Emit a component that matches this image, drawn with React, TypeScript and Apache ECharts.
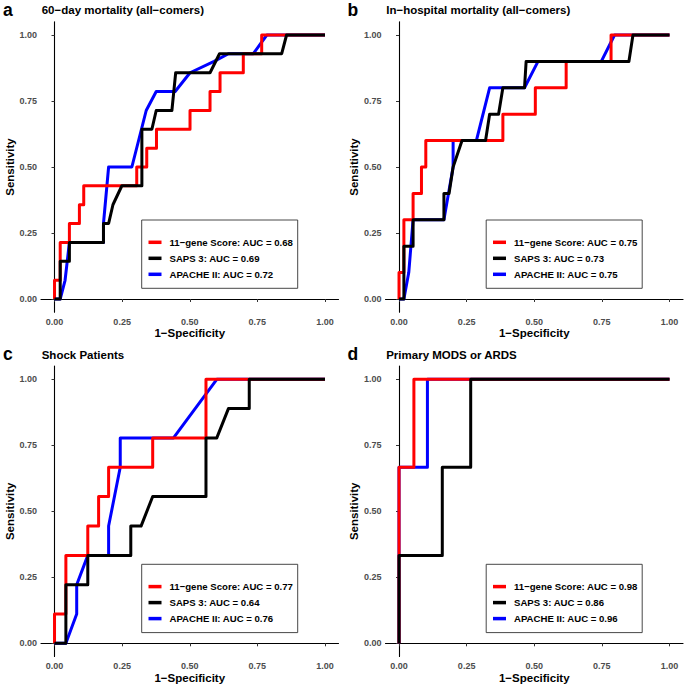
import React, { useEffect, useRef } from "react";
import * as echarts from "echarts";

const FONT = "'Liberation Sans', Arial, Helvetica, sans-serif";

const TICK_VALUES = [0, 0.25, 0.5, 0.75, 1];
const PANEL_LETTERS = ["a", "b", "c", "d"];
const PANEL_TITLES = [
  "60\u2212day mortality (all\u2212comers)",
  "In\u2212hospital mortality (all\u2212comers)",
  "Shock Patients",
  "Primary MODS or ARDS",
];
const SCORE_NAMES = ["11\u2212gene Score", "SAPS 3", "APACHE II"];
const SCORE_COLORS = ["#FF0000", "#000000", "#0000FF"];
const AUC_A = ["0.68", "0.69", "0.72"];
const AUC_B = ["0.75", "0.73", "0.75"];
const AUC_C = ["0.77", "0.64", "0.76"];
const AUC_D = ["0.98", "0.86", "0.96"];

// Panel a: 60-day mortality (all-comers)  [1-specificity, sensitivity]
const redA = [[0,0],[0,0.071],[0.021,0.071],[0.021,0.214],[0.055,0.214],[0.055,0.286],[0.092,0.286],[0.092,0.357],[0.108,0.357],[0.108,0.429],[0.304,0.429],[0.304,0.5],[0.341,0.5],[0.341,0.571],[0.377,0.571],[0.377,0.643],[0.501,0.643],[0.501,0.714],[0.575,0.714],[0.575,0.786],[0.612,0.786],[0.612,0.857],[0.698,0.857],[0.698,0.929],[0.766,0.929],[0.766,1],[1,1]];
const blackA = [[0,0],[0.021,0],[0.021,0.143],[0.055,0.143],[0.055,0.214],[0.181,0.214],[0.181,0.286],[0.2,0.286],[0.216,0.357],[0.249,0.429],[0.323,0.429],[0.323,0.643],[0.36,0.643],[0.376,0.714],[0.434,0.714],[0.448,0.857],[0.575,0.857],[0.61,0.929],[0.84,0.929],[0.858,1],[1,1]];
const blueA = [[0,0],[0.021,0],[0.039,0.071],[0.055,0.214],[0.181,0.214],[0.181,0.286],[0.2,0.5],[0.286,0.5],[0.339,0.714],[0.376,0.786],[0.446,0.786],[0.501,0.857],[0.59,0.9],[0.643,0.929],[0.735,0.929],[0.785,1],[1,1]];

// Panel b: In-hospital mortality (all-comers)
const redB = [[0,0],[0,0.1],[0.018,0.1],[0.018,0.3],[0.052,0.3],[0.052,0.4],[0.083,0.4],[0.083,0.5],[0.099,0.5],[0.099,0.6],[0.384,0.6],[0.384,0.7],[0.504,0.7],[0.504,0.8],[0.618,0.8],[0.618,0.9],[0.784,0.9],[0.784,1],[1,1]];
const blackB = [[0,0],[0.018,0],[0.018,0.2],[0.052,0.2],[0.052,0.3],[0.166,0.3],[0.166,0.4],[0.185,0.4],[0.2,0.5],[0.233,0.6],[0.32,0.6],[0.335,0.7],[0.368,0.7],[0.384,0.8],[0.464,0.8],[0.47,0.9],[0.85,0.9],[0.865,1],[1,1]];
const blueB = [[0,0],[0.018,0],[0.036,0.1],[0.052,0.3],[0.166,0.3],[0.2,0.5],[0.2,0.6],[0.286,0.6],[0.335,0.8],[0.464,0.8],[0.514,0.9],[0.748,0.9],[0.797,1],[1,1]];

// Panel c: Shock Patients
const redC = [[0,0],[0,0.111],[0.042,0.111],[0.042,0.333],[0.123,0.333],[0.123,0.444],[0.163,0.444],[0.163,0.556],[0.2,0.556],[0.2,0.667],[0.363,0.667],[0.363,0.778],[0.56,0.778],[0.56,1],[1,1]];
const blackC = [[0,0],[0.042,0],[0.042,0.222],[0.123,0.222],[0.123,0.333],[0.282,0.333],[0.282,0.444],[0.32,0.444],[0.363,0.556],[0.56,0.556],[0.56,0.778],[0.6,0.778],[0.643,0.889],[0.72,0.889],[0.72,1],[1,1]];
const blueC = [[0,0],[0.042,0],[0.082,0.111],[0.082,0.222],[0.123,0.333],[0.2,0.333],[0.2,0.444],[0.243,0.667],[0.243,0.778],[0.44,0.778],[0.6,1],[1,1]];

// Panel d: Primary MODS or ARDS
const redD = [[0,0],[0,0.333],[0,0.667],[0.055,0.667],[0.055,1],[1,1]];
const blackD = [[0,0],[0,0.333],[0.16,0.333],[0.16,0.667],[0.265,0.667],[0.265,1],[1,1]];
const blueD = [[0,0],[0,0.667],[0.105,0.667],[0.105,1],[1,1]];

const PANEL_DATA = [
  { red: redA, black: blackA, blue: blueA, auc: AUC_A },
  { red: redB, black: blackB, blue: blueB, auc: AUC_B },
  { red: redC, black: blackC, blue: blueC, auc: AUC_C },
  { red: redD, black: blackD, blue: blueD, auc: AUC_D },
];

// layout (pixels)
const GRID_LEFT = [41, 385.5, 41, 385.5];
const GRID_TOP = [21.8, 21.8, 366.1, 366.1];
const GRID_W = 297.5;
const GRID_H = 290.4;

function buildOption() {
  const grid: any[] = [];
  const xAxis: any[] = [];
  const yAxis: any[] = [];
  const series: any[] = [];
  const legend: any[] = [];
  const graphic: any[] = [];

  PANEL_DATA.forEach((p, i) => {
    const left = GRID_LEFT[i];
    const top = GRID_TOP[i];
    grid.push({ left, top, width: GRID_W, height: GRID_H, containLabel: false });

    const axisCommon = {
      gridIndex: i,
      type: "value",
      min: -0.05,
      max: 1.05,
      splitLine: { show: false },
      axisLine: { show: true, lineStyle: { color: "#000", width: 1.1 } },
      axisTick: {
        show: true,
        customValues: TICK_VALUES,
        length: 3,
        lineStyle: { color: "#333", width: 1 },
      },
      axisLabel: {
        customValues: TICK_VALUES,
        formatter: (v: number) => v.toFixed(2),
        color: "#4D4D4D",
        fontSize: 9,
        fontWeight: "bold",
        fontFamily: FONT,
      },
      nameLocation: "middle",
      nameTextStyle: { fontSize: 11.5, fontWeight: "bold", fontFamily: FONT, color: "#000" },
    };
    xAxis.push({
      ...axisCommon,
      axisLabel: { ...axisCommon.axisLabel, margin: 5 },
      name: "1\u2212Specificity",
      nameGap: 15,
    });
    yAxis.push({
      ...axisCommon,
      axisLabel: { ...axisCommon.axisLabel, margin: 4 },
      name: "Sensitivity",
      nameGap: 25.5,
    });

    const names = SCORE_NAMES.map((n, k) => `${n}: AUC = ${p.auc[k]}`);
    const dataByIdx = [p.red, p.black, p.blue];
    // draw blue first, red, then black on top
    [2, 0, 1].forEach((k) => {
      series.push({
        type: "line",
        name: names[k],
        xAxisIndex: i,
        yAxisIndex: i,
        data: dataByIdx[k],
        showSymbol: false,
        symbol: "none",
        clip: false,
        lineStyle: { color: SCORE_COLORS[k], width: 3, join: "round", cap: "butt" },
        itemStyle: { color: SCORE_COLORS[k] },
        emphasis: { disabled: true },
        silent: true,
      });
    });

    const boxX = left + 100.7;
    const boxY = top + 198.2;
    graphic.push({
      type: "rect",
      shape: { x: boxX, y: boxY, width: 156, height: 68.3 },
      style: { fill: "none", stroke: "#333", lineWidth: 0.9 },
      silent: true,
    });
    legend.push({
      data: names,
      orient: "vertical",
      left: boxX + 6.8,
      top: boxY + 14.3,
      itemWidth: 13,
      itemHeight: 3.5,
      itemGap: 0,
      padding: 0,
      icon: "rect",
      selectedMode: false,
      textStyle: {
        fontSize: 9.6,
        fontWeight: "bold",
        fontFamily: FONT,
        color: "#000",
        lineHeight: 16,
        padding: [0, 0, 0, 3],
      },
    });

    graphic.push({
      type: "text",
      x: left - 38,
      y: top - 12.3,
      style: {
        text: PANEL_LETTERS[i],
        fontSize: 17.5,
        fontWeight: "bold",
        fontFamily: FONT,
        fill: "#000",
        verticalAlign: "middle",
        align: "left",
      },
      silent: true,
    });
    graphic.push({
      type: "text",
      x: left + 0.7,
      y: top - 11.5,
      style: {
        text: PANEL_TITLES[i],
        fontSize: 11.5,
        fontWeight: "bold",
        fontFamily: FONT,
        fill: "#000",
        verticalAlign: "middle",
        align: "left",
      },
      silent: true,
    });
  });

  return {
    animation: false,
    backgroundColor: "#fff",
    grid,
    xAxis,
    yAxis,
    series,
    legend,
    graphic,
  };
}

export default function App() {
  const ref = useRef<HTMLDivElement>(null);
  useEffect(() => {
    if (!ref.current) return;
    const chart = echarts.init(ref.current, undefined, { renderer: "svg" });
    chart.setOption(buildOption() as any);
    return () => chart.dispose();
  }, []);
  return (
    <div
      ref={ref}
      style={{ position: "fixed", left: 0, top: 0, width: 685, height: 686, background: "#fff" }}
    />
  );
}
